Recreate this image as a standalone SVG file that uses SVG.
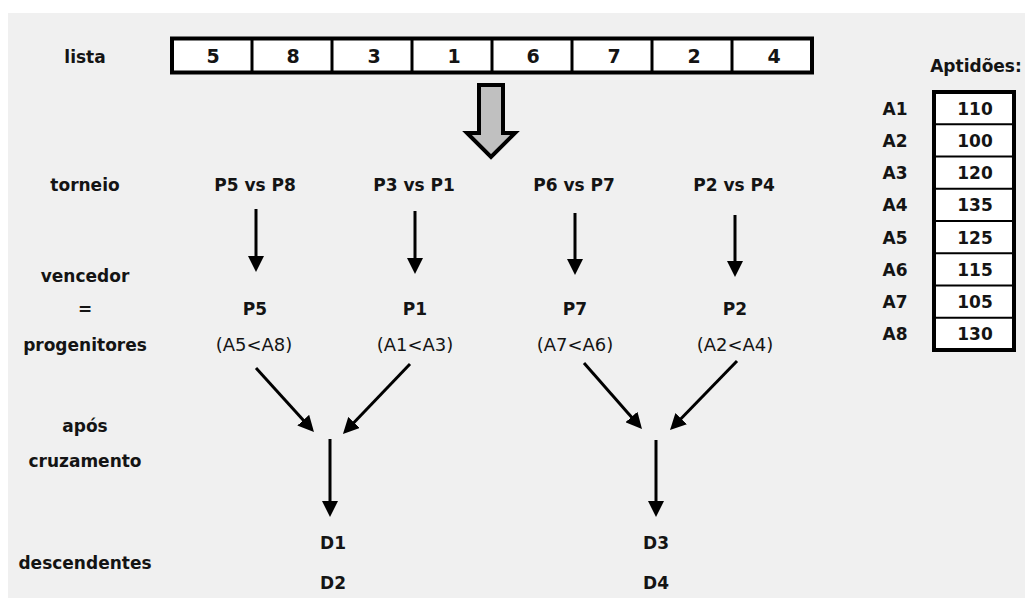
<svg xmlns="http://www.w3.org/2000/svg" width="1025" height="598" viewBox="0 0 1025 598">
<style>
  .b{font-family:"DejaVu Sans","Liberation Sans",sans-serif;font-weight:bold;font-size:17px;fill:#141414;text-anchor:middle}
  .r{font-family:"DejaVu Sans","Liberation Sans",sans-serif;font-size:18px;fill:#141414;text-anchor:middle}
  .d{font-size:19px}
  .cell{fill:#ffffff;stroke:#000;stroke-width:3}
  .conn{stroke:#000;stroke-width:3;fill:none;marker-end:url(#ah)}
</style>
<defs>
  <marker id="ah" markerUnits="userSpaceOnUse" markerWidth="16" markerHeight="16" refX="8" refY="8" orient="auto">
    <path d="M0,0 L16,8 L0,16 z" fill="#000"/>
  </marker>
</defs>
<rect x="0" y="0" width="1025" height="598" fill="#ffffff"/>
<rect x="8" y="13" width="1017" height="585" fill="#f0f0f0"/>

<g id="row-labels">
  <text class="b" x="85" y="63">lista</text>
  <text class="b" x="85" y="191">torneio</text>
  <text class="b" x="85" y="282">vencedor</text>
  <text class="b" x="85" y="315">=</text>
  <text class="b" x="85" y="351">progenitores</text>
  <text class="b" x="85" y="432">após</text>
  <text class="b" x="85" y="467">cruzamento</text>
  <text class="b" x="85" y="569">descendentes</text>
</g>

<g id="lista">
  <rect x="172" y="38.5" width="640" height="34" fill="#ffffff" stroke="#000" stroke-width="4"/>
  <g stroke="#000" stroke-width="3">
    <line x1="252" y1="38" x2="252" y2="73"/>
    <line x1="332" y1="38" x2="332" y2="73"/>
    <line x1="412" y1="38" x2="412" y2="73"/>
    <line x1="492" y1="38" x2="492" y2="73"/>
    <line x1="572" y1="38" x2="572" y2="73"/>
    <line x1="652" y1="38" x2="652" y2="73"/>
    <line x1="732" y1="38" x2="732" y2="73"/>
  </g>
  <text class="b d" x="213" y="63">5</text>
  <text class="b d" x="293" y="63">8</text>
  <text class="b d" x="374" y="63">3</text>
  <text class="b d" x="454" y="63">1</text>
  <text class="b d" x="533" y="63">6</text>
  <text class="b d" x="614" y="63">7</text>
  <text class="b d" x="694" y="63">2</text>
  <text class="b d" x="774" y="63">4</text>
</g>

<g id="seta-grande">
  <polygon points="479,85 503,85 503,133 515,133 491,157 467,133 479,133" fill="#c0c0c0" stroke="#000" stroke-width="4" stroke-linejoin="miter"/>
</g>

<g id="torneio1"><text class="b" x="255" y="191">P5 vs P8</text></g>
<g id="torneio2"><text class="b" x="414" y="191">P3 vs P1</text></g>
<g id="torneio3"><text class="b" x="574" y="191">P6 vs P7</text></g>
<g id="torneio4"><text class="b" x="734" y="191">P2 vs P4</text></g>

<g id="vencedor1"><text class="b" x="255" y="315">P5</text><text class="r" x="254" y="351">(A5&lt;A8)</text></g>
<g id="vencedor2"><text class="b" x="415" y="315">P1</text><text class="r" x="415" y="351">(A1&lt;A3)</text></g>
<g id="vencedor3"><text class="b" x="575" y="315">P7</text><text class="r" x="575" y="351">(A7&lt;A6)</text></g>
<g id="vencedor4"><text class="b" x="735" y="315">P2</text><text class="r" x="735" y="351">(A2&lt;A4)</text></g>

<g id="descendentes1"><text class="b" x="333" y="549">D1</text><text class="b" x="333" y="589">D2</text></g>
<g id="descendentes2"><text class="b" x="656" y="549">D3</text><text class="b" x="656" y="589">D4</text></g>

<g id="aptidoes">
  <text class="b" x="976" y="72">Aptidões:</text>
  <rect x="934" y="92" width="80" height="258" fill="#ffffff" stroke="#000" stroke-width="4"/>
  <g stroke="#000" stroke-width="2">
    <line x1="934" y1="124.25" x2="1014" y2="124.25"/>
    <line x1="934" y1="156.5" x2="1014" y2="156.5"/>
    <line x1="934" y1="188.75" x2="1014" y2="188.75"/>
    <line x1="934" y1="221" x2="1014" y2="221"/>
    <line x1="934" y1="253.25" x2="1014" y2="253.25"/>
    <line x1="934" y1="285.5" x2="1014" y2="285.5"/>
    <line x1="934" y1="317.75" x2="1014" y2="317.75"/>
  </g>
  <text class="b" x="895" y="114.5">A1</text><text class="b" x="975" y="114.5">110</text>
  <text class="b" x="895" y="146.75">A2</text><text class="b" x="975" y="146.75">100</text>
  <text class="b" x="895" y="179">A3</text><text class="b" x="975" y="179">120</text>
  <text class="b" x="895" y="211.25">A4</text><text class="b" x="975" y="211.25">135</text>
  <text class="b" x="895" y="243.5">A5</text><text class="b" x="975" y="243.5">125</text>
  <text class="b" x="895" y="275.75">A6</text><text class="b" x="975" y="275.75">115</text>
  <text class="b" x="895" y="308">A7</text><text class="b" x="975" y="308">105</text>
  <text class="b" x="895" y="340.25">A8</text><text class="b" x="975" y="340.25">130</text>
</g>

<g id="connectors">
  <line class="conn" x1="256" y1="209" x2="256" y2="264"/>
  <line class="conn" x1="415" y1="211" x2="415" y2="266"/>
  <line class="conn" x1="575" y1="213" x2="575" y2="267"/>
  <line class="conn" x1="735" y1="215" x2="735" y2="269"/>
  <line class="conn" x1="256" y1="368" x2="308.6" y2="426.1"/>
  <line class="conn" x1="410" y1="364" x2="348.5" y2="428.2"/>
  <line class="conn" x1="584" y1="363" x2="636.7" y2="423"/>
  <line class="conn" x1="737" y1="361" x2="675.6" y2="424.3"/>
  <line class="conn" x1="330" y1="439" x2="330" y2="509"/>
  <line class="conn" x1="656" y1="440" x2="656" y2="509"/>
</g>
</svg>
